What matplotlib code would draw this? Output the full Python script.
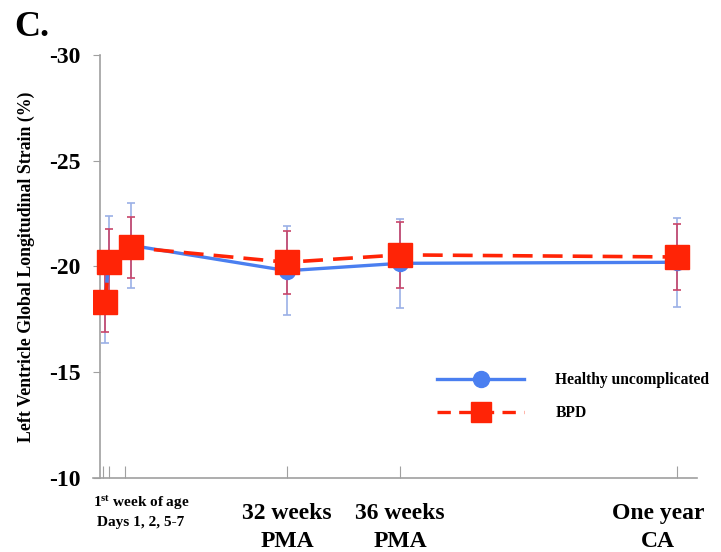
import numpy as np
import matplotlib.pyplot as plt
from matplotlib.lines import Line2D

plt.rcParams['font.family'] = ['Liberation Serif', 'DejaVu Serif']
plt.rcParams['font.weight'] = 'bold'
plt.rcParams['mathtext.fontset'] = 'custom'
plt.rcParams['mathtext.rm'] = 'Liberation Serif:bold'
plt.rcParams['mathtext.it'] = 'Liberation Serif:bold'
plt.rcParams['mathtext.bf'] = 'Liberation Serif:bold'

# time points (x position on the axis, arbitrary units)
x_pos = [5, 9, 31, 187, 300, 577]
tick_pos = [3, 9, 25, 187, 300, 577]

healthy_mean = [-18.4, -20.3, -21.0, -19.8, -20.15, -20.2]
healthy_sd = [2.0, 2.1, 2.0, 2.1, 2.1, 2.1]
bpd_mean = [-18.3, -20.2, -20.9, -20.2, -20.55, -20.45]
bpd_sd = [1.4, 1.55, 1.45, 1.5, 1.55, 1.55]

blue = '#4a7ff0'
blue_err = '#9bb0e6'
red = '#ff2406'
red_err = '#c8466a'

fig = plt.figure(figsize=(7.21, 5.52), dpi=100)
ax = fig.add_axes([93 / 721, 74 / 552, 604 / 721, 423 / 552])

# error bars first
ax.errorbar(x_pos, healthy_mean, yerr=healthy_sd, fmt='none', ecolor=blue_err,
            elinewidth=1.2, capsize=3, capthick=1.2, zorder=2)
ax.errorbar(x_pos, bpd_mean, yerr=bpd_sd, fmt='none', ecolor=red_err,
            elinewidth=1.2, capsize=3, capthick=1.2, zorder=3)

ax.plot(x_pos, healthy_mean, color=blue, lw=2.4, marker='o', ms=11.5,
        markeredgecolor=blue, zorder=4)
ax.plot(x_pos, bpd_mean, color=red, lw=2.6, ls=(0, (5.5, 2.8)), marker='s', ms=17,
        markeredgecolor=red, zorder=5)

ax.set_xlim(-7, 597)
ax.set_ylim(-10, -30)

for s in ['top', 'right']:
    ax.spines[s].set_visible(False)
ax.spines['left'].set_position(('data', 0))
ax.spines['left'].set_color('#a0a0a0')
ax.spines['bottom'].set_color('#a0a0a0')
ax.spines['left'].set_linewidth(1.2)
ax.spines['bottom'].set_linewidth(1.2)

ax.set_yticks([-30, -25, -20, -15, -10])
ax.set_yticklabels(['-30', '-25', '-20', '-15', '-10'], fontsize=17, fontweight='bold')
ax.tick_params(axis='y', direction='out', length=5, color='#a0a0a0', pad=9)

ax.set_xticks(tick_pos)
ax.set_xticklabels([])
ax.tick_params(axis='x', direction='in', length=9, color='#a0a0a0')

ax.set_ylabel('Left Ventricle Global Longitudinal Strain (%)', fontsize=12.8,
              fontweight='bold', labelpad=10)

# x category labels
trans = ax.get_xaxis_transform()
ax.text(41, -0.06, '1$^{\\mathrm{st}}$ week of age', transform=trans, ha='center',
        va='center', fontsize=11)
ax.text(41, -0.105, 'Days 1, 2, 5-7', transform=trans, ha='center', va='center', fontsize=11)
for x, l1, l2 in [(187, '32 weeks', 'PMA'), (300, '36 weeks', 'PMA'), (558, 'One year', 'CA')]:
    ax.text(x, -0.085, l1, transform=trans, ha='center', va='center', fontsize=17)
    ax.text(x, -0.15, l2, transform=trans, ha='center', va='center', fontsize=17)

fig.text(14 / 721, 1 - 28 / 552, 'C.', fontsize=26, fontweight='bold', va='center')

handles = [
    Line2D([], [], color=blue, lw=2.4, marker='o', ms=11.5),
    Line2D([], [], color=red, lw=2.4, ls=(0, (4, 2.5)), marker='s', ms=14),
]
ax.legend(handles, ['Healthy uncomplicated', 'BPD'], loc='center left',
          bbox_to_anchor=(437 / 721, 1 - 396.5 / 552), bbox_transform=fig.transFigure,
          frameon=False, fontsize=11.2, handlelength=5.6, handletextpad=2,
          labelspacing=1.1, borderpad=0, borderaxespad=0)

fig.savefig('out.png', dpi=100)
